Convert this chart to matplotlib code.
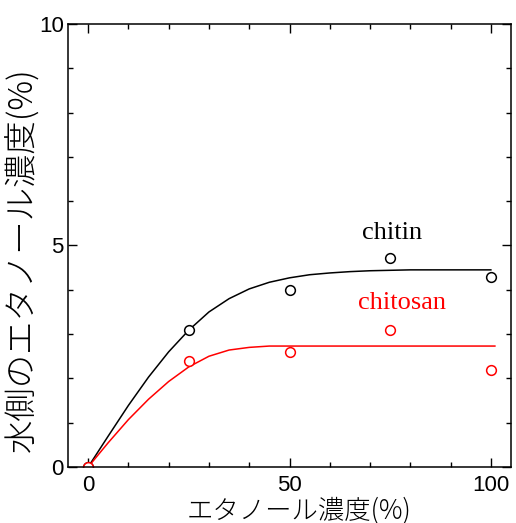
import numpy as np
import matplotlib
matplotlib.use("Agg")
import matplotlib.pyplot as plt
from matplotlib.ticker import MultipleLocator

# measured points
x_pts = [0, 25, 50, 75, 100]
chitin_pts = [0.0, 3.09, 4.0, 4.72, 4.30]
chitosan_pts = [0.0, 2.39, 2.6, 3.10, 2.19]

# fitted curves
chitin_fit_x = [0, 5, 10, 15, 20, 25, 30, 35, 40, 45, 50, 55, 60, 65, 70, 80, 90, 100]
chitin_fit_y = [0.0, 0.70, 1.39, 2.03, 2.60, 3.09, 3.50, 3.80, 4.02, 4.17, 4.27, 4.34, 4.38, 4.41, 4.43, 4.45, 4.45, 4.45]
chitosan_fit_x = [0, 5, 10, 15, 20, 25, 30, 35, 40, 45, 50, 60, 70, 80, 90, 101]
chitosan_fit_y = [0.0, 0.55, 1.07, 1.53, 1.93, 2.26, 2.50, 2.64, 2.70, 2.73, 2.73, 2.73, 2.73, 2.73, 2.73, 2.73]

fig = plt.figure(figsize=(5.16, 5.23), dpi=100)
ax = fig.add_axes([0.1318, 0.1071, 0.8585, 0.847])

ax.plot(chitin_fit_x, chitin_fit_y, color="black", lw=1.1)
ax.plot(chitosan_fit_x, chitosan_fit_y, color="red", lw=1.1)
ax.plot(x_pts, chitin_pts, "o", ms=7, mfc="white", mec="black", mew=1.1)
ax.plot(x_pts, chitosan_pts, "o", ms=7, mfc="white", mec="red", mew=1.1)

ax.text(75.4, 5.28, "chitin", color="black", fontsize=19,
        family="Liberation Serif", ha="center", va="center")
ax.text(77.9, 3.70, "chitosan", color="red", fontsize=19,
        family="Liberation Serif", ha="center", va="center")

ax.set_xlim(-5, 105)
ax.set_ylim(0, 10)
ax.xaxis.set_major_locator(MultipleLocator(50))
ax.xaxis.set_minor_locator(MultipleLocator(10))
ax.yaxis.set_major_locator(MultipleLocator(5))
ax.yaxis.set_minor_locator(MultipleLocator(1))
ax.tick_params(which="both", direction="in", top=True, right=True, width=1)
ax.tick_params(which="major", length=6.5, labelsize=16)
ax.tick_params(which="minor", length=3.5)
ax.tick_params(axis="x", pad=6)
ax.tick_params(axis="y", pad=3)
for lab in ax.get_xticklabels() + ax.get_yticklabels():
    lab.set_fontfamily("Liberation Sans")
for sp in ax.spines.values():
    sp.set_linewidth(1.1)

jp = ["Noto Sans CJK JP", "DejaVu Sans"]
ax.set_xlabel("エタノール濃度(%)", fontsize=19, family=jp, fontweight="light")
ax.set_ylabel("水側のエタノール濃度(%)", fontsize=24, family=jp, fontweight="light")
ax.xaxis.set_label_coords(0.5226, -0.066)
ax.yaxis.set_label_coords(-0.062, 0.467)

fig.savefig("out.png", dpi=100)
